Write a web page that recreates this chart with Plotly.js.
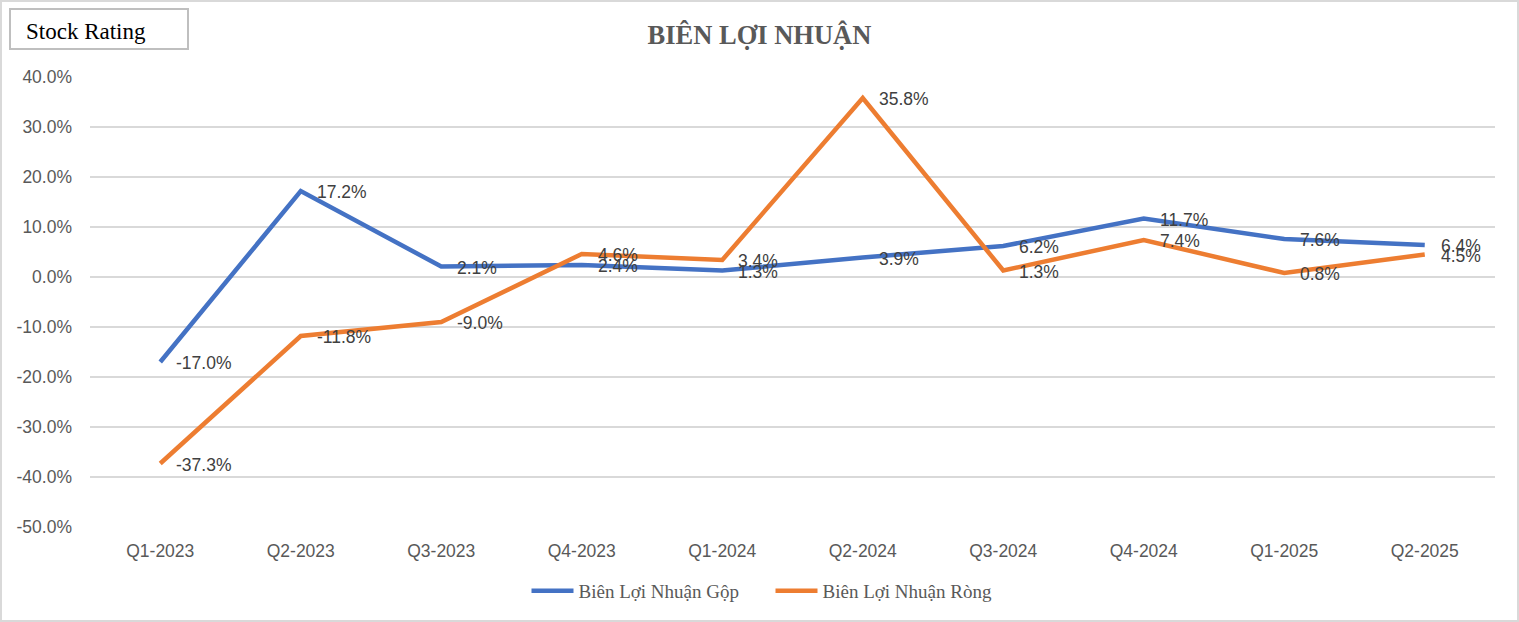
<!DOCTYPE html>
<html>
<head>
<meta charset="utf-8">
<script src="https://cdn.plot.ly/plotly-3.0.1.min.js"></script>
<style>html,body{margin:0;padding:0;background:#fff;}#chart{width:1519px;height:622px;}</style>
</head>
<body>
<div id="chart"></div>
<script>
const categories = ["Q1-2023","Q2-2023","Q3-2023","Q4-2023","Q1-2024","Q2-2024","Q3-2024","Q4-2024","Q1-2025","Q2-2025"];
const grossMargin = [-17.0, 17.2, 2.1, 2.4, 1.3, 3.9, 6.2, 11.7, 7.6, 6.4];
const netMargin = [-37.3, -11.8, -9.0, 4.6, 3.4, 35.8, 1.3, 7.4, 0.8, 4.5];
const yTicks = [40, 30, 20, 10, 0, -10, -20, -30, -40, -50];
const seriesNames = ["Biên Lợi Nhuận Gộp", "Biên Lợi Nhuận Ròng"];

const serif = "Liberation Serif, DejaVu Serif, serif";
const sans = "Liberation Sans, Arial, sans-serif";

const traces = [
  {x: categories, y: grossMargin, name: seriesNames[0], type: "scatter", mode: "lines",
   line: {color: "#4472C4", width: 4.5}, hoverinfo: "skip"},
  {x: categories, y: netMargin, name: seriesNames[1], type: "scatter", mode: "lines",
   line: {color: "#ED7D31", width: 4.5}, hoverinfo: "skip"}
];

const annotations = [];
[grossMargin, netMargin].forEach(arr => {
  arr.forEach((v, i) => {
    annotations.push({x: categories[i], y: v, xref: "x", yref: "y",
      text: v.toFixed(1) + "%", showarrow: false, xanchor: "left", yanchor: "middle",
      xshift: 14, yshift: -1, font: {family: sans, size: 17.5, color: "#404040"}});
  });
});
annotations.push({xref: "paper", yref: "paper", x: (24 - 90) / 1405, y: (527 - 31) / 450,
  xanchor: "left", yanchor: "middle", text: "Stock Rating", showarrow: false,
  font: {family: serif, size: 23, color: "#000"}});

const layout = {
  width: 1519, height: 622,
  margin: {l: 90, r: 24, t: 77, b: 95},
  paper_bgcolor: "#fff", plot_bgcolor: "#fff",
  title: {text: "<b>BIÊN LỢI NHUẬN</b>", x: 0.5, xref: "container", y: 1 - 35 / 622, yanchor: "middle",
    font: {family: serif, size: 26.5, color: "#595959"}},
  xaxis: {type: "category", range: [-0.5, 9.5], showgrid: false, zeroline: false, showline: false,
    ticks: "", tickfont: {family: sans, size: 17.5, color: "#595959"}, ticklabelstandoff: 11},
  yaxis: {range: [-50, 40], tickvals: yTicks, ticktext: yTicks.map(t => t.toFixed(1) + "%"),
    showgrid: true, gridcolor: "#d9d9d9", gridwidth: 1.5, zeroline: false, showline: false,
    ticks: "", tickfont: {family: sans, size: 17.5, color: "#595959"}, ticklabelstandoff: 17},
  showlegend: true,
  legend: {orientation: "h", x: 0.5 - 22 / 1405, xanchor: "center", y: (527 - 591) / 450, yanchor: "middle",
    font: {family: serif, size: 19, color: "#595959"}, itemwidth: 42,
    entrywidth: 187, entrywidthmode: "pixels"},
  annotations: annotations,
  shapes: [
    {type: "rect", xref: "paper", yref: "paper", x0: (1 - 90) / 1405, x1: (1518 - 90) / 1405,
     y0: (527 - 621) / 450, y1: (527 - 1) / 450, line: {color: "#d9d9d9", width: 2}},
    {type: "rect", xref: "paper", yref: "paper", x0: (10 - 90) / 1405, x1: (188 - 90) / 1405,
     y0: (527 - 49) / 450, y1: (527 - 9) / 450, line: {color: "#bfbfbf", width: 2}}
  ]
};

Plotly.newPlot("chart", traces, layout, {displayModeBar: false, staticPlot: true});
</script>
</body>
</html>
